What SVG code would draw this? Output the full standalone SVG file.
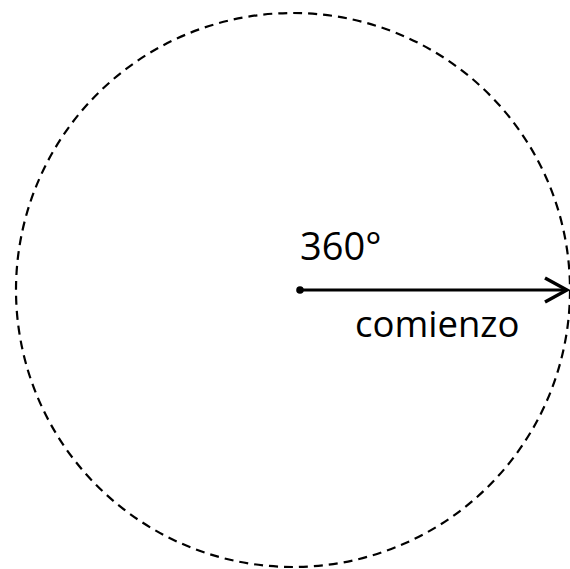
<svg xmlns="http://www.w3.org/2000/svg" width="570" height="569" viewBox="0 0 570 569">
<style>
.lbl{font-family:"Open Sans","Noto Sans","DejaVu Sans",sans-serif;fill:#000}
</style>
<rect width="570" height="569" fill="#fff"/>
<g id="circle">
<circle cx="293" cy="290" r="277" fill="none" stroke="#000" stroke-width="2.2" stroke-dasharray="9,6"/>
</g>
<g id="connectors">
<line x1="300" y1="290" x2="566" y2="290" stroke="#000" stroke-width="3.2"/>
<polyline points="545,278 567,290 545,302" fill="none" stroke="#000" stroke-width="3.5"/>
<circle cx="300" cy="290" r="3.8" fill="#000"/>
</g>
<g id="labels">
<text class="lbl" x="300" y="260" font-size="38">360°</text>
<text class="lbl" x="355" y="337" font-size="36.5">comienzo</text>
</g>
</svg>
